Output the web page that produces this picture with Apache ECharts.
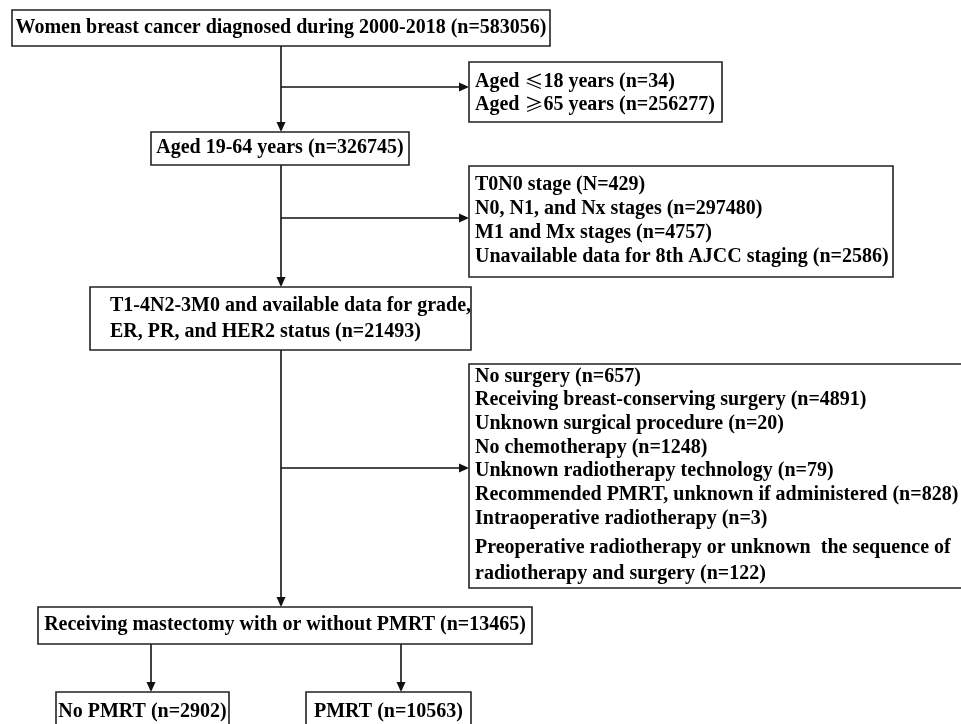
<!DOCTYPE html>
<html>
<head>
<meta charset="utf-8">
<script src="https://cdn.jsdelivr.net/npm/echarts@6/dist/echarts.min.js"></script>
<style>
  html, body { margin: 0; padding: 0; background: #fff; }
  #flowChart { width: 961px; height: 724px; }
</style>
</head>
<body>
<div id="flowChart"></div>
<script>
// 队列筛选步骤（主干）
const cohortSteps = [
  "Women breast cancer diagnosed during 2000-2018 (n=583056)",
  "Aged 19-64 years (n=326745)",
  "T1-4N2-3M0 and available data for grade,\nER, PR, and HER2 status (n=21493)",
  "Receiving mastectomy with or without PMRT (n=13465)"
];
// 各步排除的病例
const excludedAge = [
  "Aged ≤18 years (n=34)",
  "Aged ≥65 years (n=256277)"
];
const excludedStage = [
  "T0N0 stage (N=429)",
  "N0, N1, and Nx stages (n=297480)",
  "M1 and Mx stages (n=4757)",
  "Unavailable data for 8th AJCC staging (n=2586)"
];
const excludedTreatment = [
  "No surgery (n=657)",
  "Receiving breast-conserving surgery (n=4891)",
  "Unknown surgical procedure (n=20)",
  "No chemotherapy (n=1248)",
  "Unknown radiotherapy technology (n=79)",
  "Recommended PMRT, unknown if administered (n=828)",
  "Intraoperative radiotherapy (n=3)",
  "Preoperative radiotherapy or unknown  the sequence of\nradiotherapy and surgery (n=122)"
];
// 最终分组
const studyGroups = ["No PMRT (n=2902)", "PMRT (n=10563)"];

// 把多行文本拆成行
function toLines(items) {
  return [].concat(...items.map(s => s.split("\n")));
}
const boxTexts = [
  toLines([cohortSteps[0]]),
  toLines(excludedAge),
  toLines([cohortSteps[1]]),
  toLines(excludedStage),
  toLines([cohortSteps[2]]),
  toLines(excludedTreatment),
  toLines([cohortSteps[3]]),
  toLines([studyGroups[0]]),
  toLines([studyGroups[1]])
];

// 布局（坐标轴单位 = 像素），和数据分开放
const boxLayout = [
  { rect: [12, 10, 550, 46], align: "center", lineY: [28] },
  { rect: [469, 62, 722, 122], align: "left", textX: 475, lineY: [82, 105] },
  { rect: [151, 132, 409, 165], align: "center", lineY: [148] },
  { rect: [469, 166, 893, 277], align: "left", textX: 475, lineY: [185, 209, 233, 257] },
  { rect: [90, 287, 471, 350], align: "left", textX: 110, lineY: [306, 332] },
  { rect: [469, 364, 990, 588], align: "left", textX: 475, lineY: [377, 400, 424, 448, 471, 495, 519, 548, 574] },
  { rect: [38, 607, 532, 644], align: "center", lineY: [625] },
  { rect: [56, 692, 229, 760], align: "center", lineY: [712] },
  { rect: [306, 692, 471, 760], align: "center", lineY: [712] }
];
const arrowLayout = [
  [281, 46, 281, 132],
  [281, 87, 469, 87],
  [281, 165, 281, 287],
  [281, 218, 469, 218],
  [281, 350, 281, 607],
  [281, 468, 469, 468],
  [151, 644, 151, 692],
  [401, 644, 401, 692]
];

const FONT = 'bold 20px "Liberation Serif", "Times New Roman", serif';

const myChart = echarts.init(document.getElementById("flowChart"));

const option = {
  animation: false,
  backgroundColor: "#ffffff",
  grid: { left: 0, right: 0, top: 0, bottom: 0 },
  xAxis: { type: "value", min: 0, max: 961, show: false },
  yAxis: { type: "value", min: 0, max: 724, inverse: true, show: false },
  series: [
    {
      // 连接箭头
      type: "custom",
      clip: false,
      data: arrowLayout,
      renderItem: function (params, api) {
        const a = api.coord([api.value(0), api.value(1)]);
        const b = api.coord([api.value(2), api.value(3)]);
        const dx = b[0] - a[0], dy = b[1] - a[1];
        const len = Math.sqrt(dx * dx + dy * dy);
        const ux = dx / len, uy = dy / len;
        const head = 10, half = 4.5;
        const base = [b[0] - ux * head, b[1] - uy * head];
        return {
          type: "group",
          children: [
            {
              type: "line",
              shape: { x1: a[0], y1: a[1], x2: base[0], y2: base[1] },
              style: { stroke: "#111", lineWidth: 1.6 }
            },
            {
              type: "polygon",
              shape: {
                points: [
                  [b[0], b[1]],
                  [base[0] - uy * half, base[1] + ux * half],
                  [base[0] + uy * half, base[1] - ux * half]
                ]
              },
              style: { fill: "#111" }
            }
          ]
        };
      }
    },
    {
      // 方框和文字
      type: "custom",
      clip: false,
      data: boxLayout.map(b => b.rect),
      renderItem: function (params, api) {
        const i = params.dataIndex;
        const lay = boxLayout[i];
        const p1 = api.coord([api.value(0), api.value(1)]);
        const p2 = api.coord([api.value(2), api.value(3)]);
        const children = [
          {
            type: "rect",
            shape: { x: p1[0], y: p1[1], width: p2[0] - p1[0], height: p2[1] - p1[1] },
            style: { fill: "#fff", stroke: "#222", lineWidth: 1.6 }
          }
        ];
        const cx = (api.value(0) + api.value(2)) / 2;
        boxTexts[i].forEach(function (line, k) {
          const tx = lay.align === "center" ? cx : lay.textX;
          const pt = api.coord([tx, lay.lineY[k]]);
          children.push({
            type: "text",
            x: pt[0],
            y: pt[1],
            style: {
              // ≤ ≥ 用中文字体显示（斜线样式）
              text: line.replace(/([≤≥])/g, "{sym|$1}"),
              fill: "#000",
              font: FONT,
              align: lay.align,
              verticalAlign: "middle",
              rich: {
                sym: {
                  fontFamily: "Noto Sans CJK SC",
                  fontSize: 19,
                  fontWeight: "normal",
                  fill: "#000"
                }
              }
            }
          });
        });
        return { type: "group", children: children };
      }
    }
  ]
};

myChart.setOption(option);
window.addEventListener("resize", function () {
  myChart.resize();
});
</script>
</body>
</html>
